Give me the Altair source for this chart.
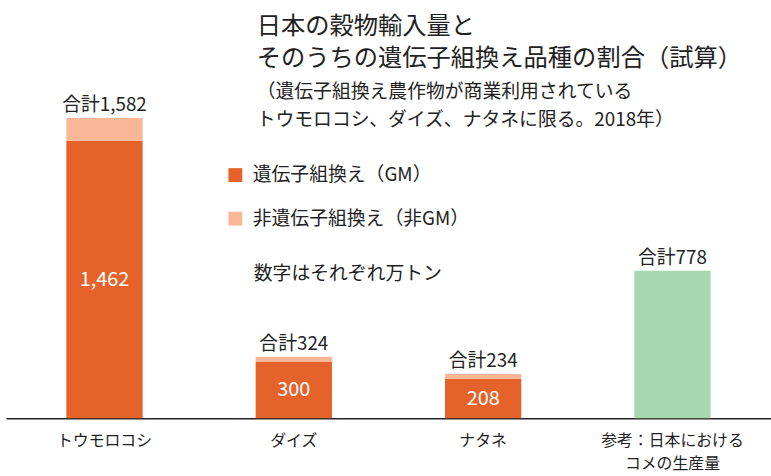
import altair as alt
import pandas as pd

FONT = "Noto Sans CJK JP"

categories = ["トウモロコシ", "ダイズ", "ナタネ", "参考：日本における\nコメの生産量"]
gm_values = [1462, 300, 208, 0]
non_gm_values = [120, 24, 26, 0]
rice_values = [0, 0, 0, 778]
type_labels = ["遺伝子組換え（GM）", "非遺伝子組換え（非GM）", "コメ"]
type_colors = ["#E5632A", "#F9B796", "#A8D8B0"]

rows = []
for i, c in enumerate(categories):
    for o, (t, vals) in enumerate(zip(type_labels, [gm_values, non_gm_values, rice_values])):
        if vals[i] > 0:
            rows.append({"category": c, "type": t, "value": vals[i], "order": o})
bars_df = pd.DataFrame(rows)

totals_df = pd.DataFrame({
    "category": categories,
    "gm": gm_values,
    "total": [g + n + r for g, n, r in zip(gm_values, non_gm_values, rice_values)],
})

x_enc = alt.X(
    "category:N",
    sort=categories,
    scale=alt.Scale(paddingInner=0.597, paddingOuter=0.319),
    axis=alt.Axis(
        title=None,
        labelExpr="split(datum.label, '\\n')",
        labelAngle=0,
        labelOverlap=False,
        labelLimit=0,
        labelFont=FONT,
        labelFontSize=16,
        labelColor="#222222",
        labelLineHeight=24,
        labelPadding=14,
        ticks=False,
        domainColor="#222222",
        domainWidth=1.5,
        grid=False,
    ),
)
y_scale = alt.Scale(domain=[0, 1514], nice=False, zero=True)

bars = alt.Chart(bars_df).mark_bar().encode(
    x=x_enc,
    y=alt.Y("value:Q", stack="zero", scale=y_scale, axis=None),
    order=alt.Order("order:Q", sort="ascending"),
    color=alt.Color(
        "type:N",
        scale=alt.Scale(domain=type_labels, range=type_colors),
        legend=alt.Legend(
            values=type_labels[:2],
            orient="none",
            legendX=222,
            legendY=35,
            title="数字はそれぞれ万トン",
            titleOrient="bottom",
            titleAnchor="middle",
            titleFont=FONT,
            titleFontSize=19,
            titleFontWeight="normal",
            titleColor="#222222",
            titlePadding=36,
            titleLimit=0,
            labelFont=FONT,
            labelFontSize=19,
            labelColor="#222222",
            labelLimit=0,
            labelOffset=8,
            symbolType="square",
            symbolSize=196,
            symbolStrokeWidth=0,
            symbolOpacity=1,
            rowPadding=24,
        ),
    ),
)

totals = alt.Chart(totals_df).transform_calculate(
    label="'合計' + format(datum.total, ',')"
).mark_text(font=FONT, fontSize=19, color="#222222", baseline="alphabetic", dy=-7).encode(
    x=alt.X("category:N", sort=categories),
    y=alt.Y("total:Q", scale=y_scale),
    text="label:N",
)

inner = alt.Chart(totals_df).transform_filter("datum.gm > 0").transform_calculate(
    mid="datum.gm / 2", glabel="format(datum.gm, ',')"
).mark_text(font=FONT, fontSize=20, color="white", baseline="middle").encode(
    x=alt.X("category:N", sort=categories),
    y=alt.Y("mid:Q", scale=y_scale),
    text="glabel:N",
)

chart = alt.layer(bars, totals, inner).properties(
    width=772,
    height=290,
    background="white",
    autosize=alt.AutoSizeParams(type="none"),
    padding={"left": 6, "top": 130, "right": 0, "bottom": 56},
    title=alt.TitleParams(
        text=["日本の穀物輸入量と", "そのうちの遺伝子組換え品種の割合（試算）"],
        subtitle=["（遺伝子組換え農作物が商業利用されている", "トウモロコシ、ダイズ、ナタネに限る。2018年）"],
        anchor="start",
        dx=253,
        offset=-35,
        font=FONT,
        fontSize=24.5,
        fontWeight="normal",
        lineHeight=32,
        color="#222222",
        subtitleFont=FONT,
        subtitleFontSize=19,
        subtitleLineHeight=28,
        subtitleColor="#222222",
        subtitlePadding=12,
    ),
).configure_view(stroke=None)

chart.save("out.html", embed_options={"renderer": "svg", "actions": False})
